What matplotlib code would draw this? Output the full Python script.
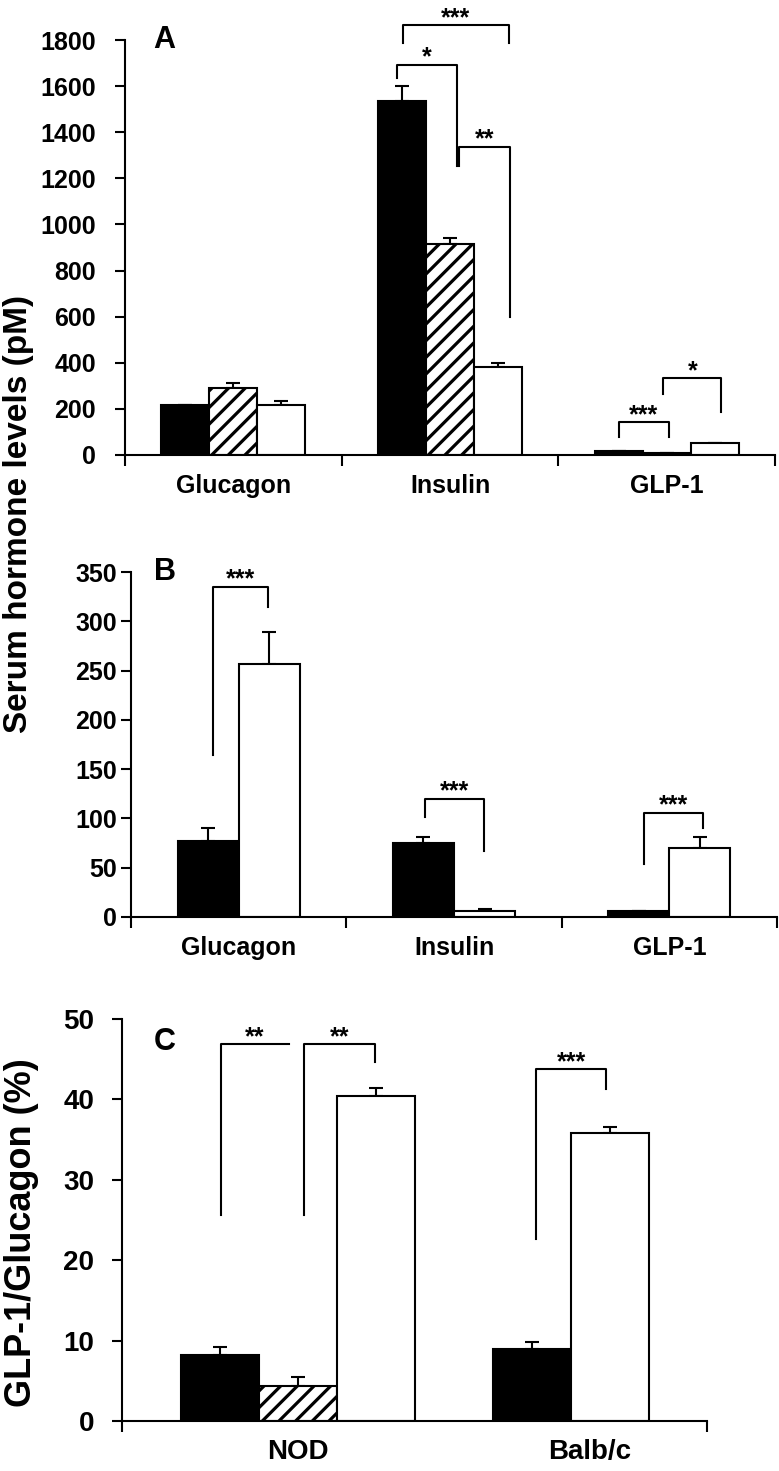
import numpy as np
from matplotlib import pyplot as plt

plt.rcParams['font.family'] = ['Liberation Sans', 'DejaVu Sans']
plt.rcParams['font.weight'] = 'bold'
plt.rcParams['hatch.linewidth'] = 2.3

# panel A / B categories
cats = ['Glucagon', 'Insulin', 'GLP-1']

# panel A values (pM) and upper errors
a_black = [219, 1537, 17]
a_black_err = [0, 65, 0]
a_hatch = [291, 914, 7]
a_hatch_err = [20, 28, 0]
a_white = [216, 381, 52]
a_white_err = [20, 20, 0]

# panel B values (pM)
b_black = [77, 75, 6]
b_black_err = [13, 6, 0]
b_white = [257, 6, 70]
b_white_err = [32, 2, 11]

# panel C values (%)
c_groups = ['NOD', 'Balb/c']
c_black = [8.2, 9.0]
c_black_err = [1.0, 0.8]
c_hatch = [4.4]
c_hatch_err = [1.1]
c_white = [40.4, 35.8]
c_white_err = [1.0, 0.8]

# significance brackets: label, x1, x2, y_top, y_left_end, y_right_end
a_sig = [('***', 1.281, 1.770, 1865, 1787, 1787),
         ('*', 1.255, 1.530, 1693, 1636, 1255),
         ('**', 1.540, 1.777, 1337, 1255, 597),
         ('***', 2.280, 2.510, 143, 78, 78),
         ('*', 2.485, 2.753, 334, 264, 186)]
b_sig = [('***', 0.379, 0.634, 335, 164, 315),
         ('***', 1.366, 1.640, 120, 101, 67),
         ('***', 2.383, 2.655, 106, 54, 90)]
c_sig = [('**', 1.27, 2.14, 46.9, 25.6, 46.9),
         ('**', 2.33, 3.24, 46.9, 25.6, 44.7),
         ('***', 5.31, 6.21, 43.8, 22.6, 41.3)]

W, H = 779, 1471
fig = plt.figure(figsize=(W / 100, H / 100), dpi=100)


def axes_px(l, t, r, b):
    return fig.add_axes([l / W, 1 - b / H, (r - l) / W, (b - t) / H])


def style(ax, ypad, size=18):
    for s in ['top', 'right']:
        ax.spines[s].set_visible(False)
    for s in ['left', 'bottom']:
        ax.spines[s].set_linewidth(1.5)
    ax.tick_params(axis='y', length=7, width=1.5, pad=ypad, labelsize=size)
    ax.tick_params(axis='x', which='major', length=0, pad=14, labelsize=18)
    ax.tick_params(axis='x', which='minor', length=8, width=1.5)


def bars(ax, x, vals, errs, kind, w):
    if kind == 'black':
        ax.bar(x, vals, w, color='black', edgecolor='black', linewidth=1.5, zorder=2)
    elif kind == 'hatch':
        ax.bar(x, vals, w, color='white', edgecolor='black', hatch='//', linewidth=1.5, zorder=2)
    else:
        ax.bar(x, vals, w, color='white', edgecolor='black', linewidth=1.5, zorder=2)
    ax.errorbar(x, vals, yerr=[np.zeros(len(vals)), errs], fmt='none', ecolor='black',
                elinewidth=1.5, capsize=5, capthick=1.5, zorder=1)


def brackets(ax, sig, fs=18):
    for lab, x1, x2, yt, yl, yr in sig:
        ax.plot([x1, x1, x2, x2], [yl, yt, yt, yr], color='black', lw=1.5,
                clip_on=False, zorder=3)
        ax.annotate(lab, ((x1 + x2) / 2, yt), xytext=(0, 0), textcoords='offset points',
                    ha='center', va='baseline', fontsize=fs, fontweight='bold',
                    annotation_clip=False)


# ---- panel A
ax = axes_px(125, 40, 775, 455)
xa = np.arange(3) + 0.5
wa = 0.2215
bars(ax, xa - wa, a_black, a_black_err, 'black', wa)
bars(ax, xa, a_hatch, a_hatch_err, 'hatch', wa)
bars(ax, xa + wa, a_white, a_white_err, 'white', wa)
ax.set_xlim(0, 3)
ax.set_ylim(0, 1800)
ax.set_yticks(np.arange(0, 1801, 200))
ax.set_xticks(xa)
ax.set_xticklabels(cats)
ax.set_xticks(np.arange(4), minor=True)
style(ax, 14)
brackets(ax, a_sig)
ax.text(0.18, 1800, 'A', fontsize=22, ha='center', va='center')

# ---- panel B
ax = axes_px(131, 572, 777, 917)
wb = 0.284
bars(ax, xa - wb / 2, b_black, b_black_err, 'black', wb)
bars(ax, xa + wb / 2, b_white, b_white_err, 'white', wb)
ax.set_xlim(0, 3)
ax.set_ylim(0, 350)
ax.set_yticks(np.arange(0, 351, 50))
ax.set_xticks(xa)
ax.set_xticklabels(cats)
ax.set_xticks(np.arange(4), minor=True)
style(ax, 3)
brackets(ax, b_sig)
ax.text(0.16, 350, 'B', fontsize=22, ha='center', va='center')

# ---- panel C
ax = axes_px(122, 1019, 707, 1421)
bars(ax, [1.25, 5.25], c_black, c_black_err, 'black', 1)
bars(ax, [2.25], c_hatch, c_hatch_err, 'hatch', 1)
bars(ax, [3.25, 6.25], c_white, c_white_err, 'white', 1)
ax.set_xlim(0, 7.5)
ax.set_ylim(0, 50)
ax.set_yticks(np.arange(0, 51, 10))
ax.set_xticks([2.25, 6.0])
ax.set_xticklabels(c_groups)
ax.set_xticks([0, 7.5], minor=True)
style(ax, 13, 20)
ax.tick_params(axis='x', which='major', pad=13, labelsize=20)
brackets(ax, c_sig)
ax.text(0.55, 47.1, 'C', fontsize=22, ha='center', va='center')

fig.text(19 / W, 1 - 514 / H, 'Serum hormone levels (pM)', rotation=90,
         ha='center', va='center', fontsize=24)
fig.text(22 / W, 1 - 1233 / H, 'GLP-1/Glucagon (%)', rotation=90,
         ha='center', va='center', fontsize=26)

fig.savefig('out.png', dpi=100)
